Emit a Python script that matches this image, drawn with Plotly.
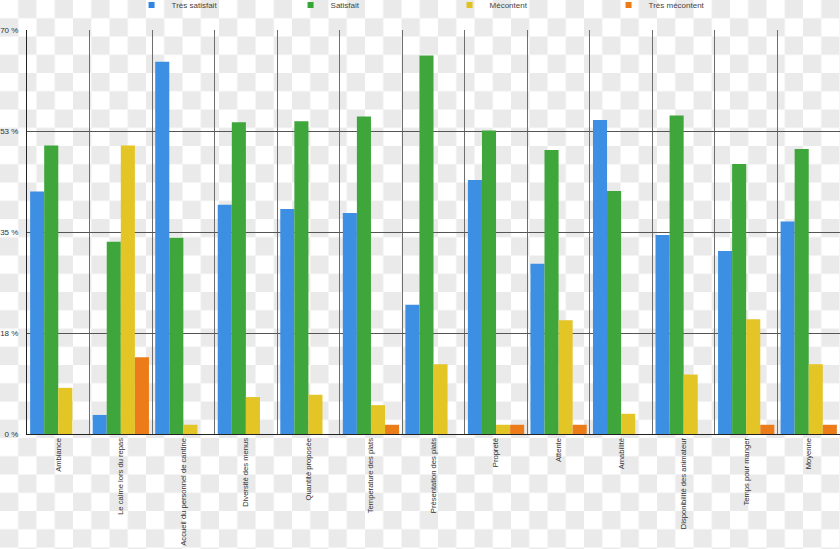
import base64
import plotly.graph_objects as go

categories = ["Ambiance", "Le calme lors du repas", "Accueil du personnel de cantine",
              "Diversité des menus", "Quantité proposée", "Temperature des plats",
              "Présentation des plats", "Propreté", "Attente", "Amabilité",
              "Disponibilité des animateur", "Temps pour manger", "Moyenne"]
tres_satisfait = [42.0, 3.3, 64.5, 39.7, 39.0, 38.3, 22.4, 44.0, 29.5, 54.4, 34.5, 31.7, 36.8]
satisfait = [50.0, 33.3, 34.0, 54.0, 54.2, 55.0, 65.6, 52.6, 49.2, 42.1, 55.2, 46.8, 49.4]
mecontent = [8.0, 50.0, 1.6, 6.4, 6.8, 5.0, 12.1, 1.6, 19.7, 3.5, 10.3, 19.9, 12.1]
tres_mecontent = [0, 13.3, 0, 0, 0, 1.6, 0, 1.6, 1.6, 0, 0, 1.6, 1.6]
series_names = ["Très satisfait", "Satisfait", "Mécontent", "Très mécontent"]
tick_vals = [0, 17.5, 35, 52.5, 70]
tick_text = ["0 %", "18 %", "35 %", "53 %", "70 %"]

colors = ["#3d8fe3", "#3ea63a", "#e3c526", "#ec7c1a"]
legend_colors = ["#2f86e0", "#35a535", "#e0c21c", "#ee7a16"]

W, H = 840, 549
L, R, T, B = 27, 0, 30, 115
pw, ph = W - L - R, H - T - B

# checkerboard background
sq = 18.25
svg = ('<svg xmlns="http://www.w3.org/2000/svg" width="840" height="549">'
       '<defs><pattern id="p" width="%.2f" height="%.2f" patternUnits="userSpaceOnUse">'
       '<rect width="%.2f" height="%.2f" fill="#ffffff"/>'
       '<rect x="%.2f" width="%.2f" height="%.2f" fill="#eaeaea"/>'
       '<rect y="%.2f" width="%.2f" height="%.2f" fill="#eaeaea"/>'
       '</pattern></defs><rect width="840" height="549" fill="url(#p)"/></svg>'
       % (2 * sq, 2 * sq, 2 * sq, 2 * sq, sq, sq, sq, sq, sq, sq))
src = "data:image/svg+xml;base64," + base64.b64encode(svg.encode()).decode()

fig = go.Figure()
for name, vals, c in zip(series_names, [tres_satisfait, satisfait, mecontent, tres_mecontent], colors):
    fig.add_trace(go.Bar(x=categories, y=vals, name=name, marker=dict(color=c, line=dict(width=0)),
                         showlegend=False))
for name, c in zip(series_names, legend_colors):
    fig.add_trace(go.Scatter(x=[None], y=[None], mode="markers", name=name,
                             marker=dict(symbol="square", size=6, color=c)))

fig.update_layout(
    width=W, height=H,
    margin=dict(l=L, r=R, t=T, b=B, autoexpand=False),
    paper_bgcolor="rgba(0,0,0,0)", plot_bgcolor="rgba(0,0,0,0)",
    barmode="group", bargap=0.1, bargroupgap=0,
    font=dict(family="Liberation Sans, Arial, sans-serif", size=8, color="#333333"),
    legend=dict(orientation="h", x=0.1286, xanchor="left", y=1 + 25 / ph, yanchor="middle",
                entrywidth=114, entrywidthmode="pixels", itemwidth=30,
                font=dict(size=8, color="#444444"), bgcolor="rgba(0,0,0,0)"),
    images=[dict(source=src, xref="paper", yref="paper", x=-L / pw, y=1 + T / ph,
                 sizex=W / pw, sizey=H / ph, xanchor="left", yanchor="top",
                 sizing="stretch", layer="below")],
    xaxis=dict(tickangle=-90, showgrid=True, gridcolor="#6e6e6e", gridwidth=1,
               tickson="boundaries", ticks="", showline=True, linecolor="#222222", linewidth=1,
               mirror=False, automargin=False, tickfont=dict(size=7.6, color="#333333")),
    yaxis=dict(range=[0, 70], tickvals=tick_vals, ticktext=tick_text, showgrid=True,
               gridcolor="#555555", gridwidth=1, showline=True, linecolor="#222222",
               linewidth=1, zeroline=False, ticks="", automargin=False, ticklabelstandoff=6,
               tickfont=dict(size=8, color="#333333")),
)
fig.write_html("out.html")
